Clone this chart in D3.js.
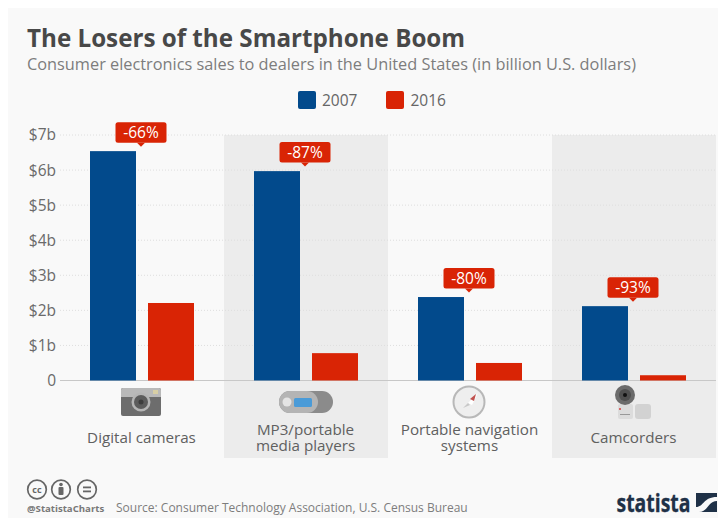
<!DOCTYPE html>
<html><head><meta charset="utf-8">
<script src="https://cdn.jsdelivr.net/npm/d3@7"></script>
<style>html,body{margin:0;padding:0;background:#fff}svg{display:block}text{font-family:"Open Sans",sans-serif}</style>
</head><body><svg id="c" width="718" height="518"></svg>
<script>
const categories=["Digital cameras","MP3/portable media players","Portable navigation systems","Camcorders"];
const labelLines=[["Digital cameras"],["MP3/portable","media players"],["Portable navigation","systems"],["Camcorders"]];
const series2007=[6.54,5.97,2.38,2.12];
const series2016=[2.21,0.78,0.5,0.15];
const changes=["-66%","-87%","-80%","-93%"];
const yTicks=[0,1,2,3,4,5,6,7];
const blue="#024a8c",red="#d92405";
const svg=d3.select("#c");
svg.append("rect").attr("x",8).attr("y",8).attr("width",710).attr("height",510).attr("fill","#f9f9f9");
const x=d3.scaleBand().domain(categories).range([60,716]);
const y=d3.scaleLinear().domain([0,7]).range([380.5,135]);
const inner=d3.scaleBand().domain(["2007","2016"]).range([30,134]).paddingInner(12/58).paddingOuter(0);
categories.forEach((c,i)=>{ if(i%2==1) svg.append("rect").attr("x",x(c)).attr("y",y(7)).attr("width",x.bandwidth()).attr("height",458-y(7)).attr("fill","#ececec"); });
svg.append("text").attr("x",27).attr("y",47).attr("font-size",24.2).attr("font-weight",700).attr("fill","#484848").text("The Losers of the Smartphone Boom");
svg.append("text").attr("x",27).attr("y",70).attr("font-size",16.32).attr("fill","#7d7d7d").text("Consumer electronics sales to dealers in the United States (in billion U.S. dollars)");
[["2007",blue,298,322],["2016",red,386,410.5]].forEach(([t,col,rx,tx])=>{
 svg.append("rect").attr("x",rx).attr("y",91).attr("width",18).attr("height",18).attr("rx",2).attr("fill",col);
 svg.append("text").attr("x",tx).attr("y",106).attr("font-size",15.5).attr("fill","#666").text(t);
});
const axis=d3.axisLeft(y).tickValues(yTicks).tickSize(0).tickPadding(0).tickFormat(d=>d===0?"0":"$"+d+"b");
const ga=svg.append("g").attr("transform","translate(56,0)").call(axis);
ga.select(".domain").remove();
ga.selectAll("text").attr("font-size",15.5).attr("fill","#6a6a6a").style("font-family",'"Open Sans",sans-serif');
yTicks.forEach(t=>{
 svg.append("line").attr("x1",60).attr("x2",716).attr("y1",y(t)).attr("y2",y(t))
  .attr("stroke",t===0?"#c8c8c8":"#dedede").attr("stroke-width",1).attr("stroke-dasharray",t===0?null:"1 2");
});
categories.forEach((c,i)=>{
 const x0=x(c);
 svg.append("rect").attr("x",x0+inner("2007")).attr("y",y(series2007[i])).attr("width",inner.bandwidth()).attr("height",y(0)-y(series2007[i])).attr("fill",blue);
 svg.append("rect").attr("x",x0+inner("2016")).attr("y",y(series2016[i])).attr("width",inner.bandwidth()).attr("height",y(0)-y(series2016[i])).attr("fill",red);
 const cx=x0+x.bandwidth()/2-1, top=y(series2007[i]);
 const by=top-8.5;
 svg.append("rect").attr("x",cx-25.5).attr("y",by-20.5).attr("width",51).attr("height",20.5).attr("rx",2.5).attr("fill",red);
 svg.append("path").attr("d",`M${cx-4},${by}L${cx},${by+4}L${cx+4},${by}Z`).attr("fill",red);
 svg.append("text").attr("x",cx).attr("y",by-4.8).attr("text-anchor","middle").attr("font-size",15.5).attr("font-weight",500).attr("fill","#fff").text(changes[i]);
 const lines=labelLines[i];
 const t=svg.append("text").attr("text-anchor","middle").attr("font-size",15.2).attr("fill","#606060");
 lines.forEach((l,k)=>t.append("tspan").attr("x",cx+0.5).attr("y",(lines.length==1?443:434.5)+k*16.8).text(l));
});
const ic=svg.append("g");
const cc=categories.map(c=>x(c)+x.bandwidth()/2-1);
let g=ic.append("g").attr("transform",`translate(${cc[0]},0)`);
g.append("rect").attr("x",-20).attr("y",388).attr("width",40).attr("height",28).attr("rx",2).attr("fill","#6d6d6d");
g.append("path").attr("d","M-20,397V390a2,2 0 0 1 2,-2H18a2,2 0 0 1 2,2V397Z").attr("fill","#b9b9b9");
g.append("rect").attr("x",12).attr("y",390).attr("width",5).attr("height",4).attr("fill","#d8cfa5");
g.append("circle").attr("cy",402).attr("r",9.5).attr("fill","#b5b5b5");
g.append("circle").attr("cy",402).attr("r",7).attr("fill","#5c5c5c");
g.append("circle").attr("cy",402).attr("r",2.5).attr("fill","#3d3d3d");
g=ic.append("g").attr("transform",`translate(${cc[1]},0)`);
g.append("rect").attr("x",-26).attr("y",391).attr("width",54).attr("height",22).attr("rx",11).attr("fill","#8b8b8b");
g.append("rect").attr("x",-26).attr("y",391).attr("width",39).attr("height",22).attr("rx",11).attr("fill","#b4b4b4");
g.append("rect").attr("x",-11).attr("y",398).attr("width",18).attr("height",9).attr("rx",1.5).attr("fill","#4a9bd8");
g.append("circle").attr("cx",-18).attr("cy",402).attr("r",4.5).attr("fill","#e4e4e4");
g=ic.append("g").attr("transform",`translate(${cc[2]},0)`);
g.append("circle").attr("cy",402).attr("r",15.5).attr("fill","#eeeeee").attr("stroke","#b8b8b8").attr("stroke-width",2);
g.append("path").attr("d","M-1,403L9,393L3,405Z").attr("fill","#fff");
g.append("path").attr("d","M1,399L7,394L5,401Z").attr("fill","#c0504d");
g.append("path").attr("d","M-1,403L-6,408L1,405Z").attr("fill","#c8c8c8");
g=ic.append("g").attr("transform",`translate(${cc[3]},0)`);
g.append("rect").attr("x",-15).attr("y",404).attr("width",15).attr("height",15).attr("rx",2).attr("fill","#dcdcdc");
g.append("rect").attr("x",2).attr("y",404).attr("width",16).attr("height",15).attr("rx",3).attr("fill","#d2d2d2");
g.append("circle").attr("cx",-8).attr("cy",395).attr("r",10).attr("fill","#6b6b6b");
g.append("circle").attr("cx",-8).attr("cy",395).attr("r",6).attr("fill","#4f4f4f");
g.append("circle").attr("cx",-8).attr("cy",395).attr("r",2).attr("fill","#111");
g.append("circle").attr("cx",-13).attr("cy",409).attr("r",1).attr("fill","#d94040");
g.append("rect").attr("x",-13).attr("y",414).attr("width",10).attr("height",1).attr("fill","#999");
const badge=svg.append("g").attr("fill","none").attr("stroke","#666").attr("stroke-width",1.7);
[37,61,87].forEach(cx=>badge.append("circle").attr("cx",cx).attr("cy",489.5).attr("r",9.3));
svg.append("text").attr("x",37).attr("y",493).attr("text-anchor","middle").attr("font-size",9).attr("font-weight",700).attr("fill","#666").text("cc");
svg.append("circle").attr("cx",61).attr("cy",484.5).attr("r",1.8).attr("fill","#666");
svg.append("rect").attr("x",58.5).attr("y",487).attr("width",5).attr("height",8).attr("rx",1).attr("fill","#666");
svg.append("rect").attr("x",83).attr("y",486.5).attr("width",8).attr("height",1.8).attr("fill","#666");
svg.append("rect").attr("x",83).attr("y",490.5).attr("width",8).attr("height",1.8).attr("fill","#666");
svg.append("text").attr("x",27).attr("y",512).attr("font-size",9.6).attr("font-weight",700).attr("fill","#777").text("@StatistaCharts");
svg.append("text").attr("x",116).attr("y",512).attr("font-size",12).attr("fill","#7d7d7d").text("Source: Consumer Technology Association, U.S. Census Bureau");
svg.append("text").attr("x",616.5).attr("y",511.5).attr("font-size",25).attr("font-weight",700).attr("fill","#1f3147").attr("stroke","#1f3147").attr("stroke-width",0.3).attr("textLength",74).attr("lengthAdjust","spacingAndGlyphs").style("font-family",'"Liberation Sans Narrow","Open Sans",sans-serif').text("statista");
svg.append("rect").attr("x",696).attr("y",493).attr("width",21).attr("height",19).attr("fill","#1f3147");
svg.append("path").attr("d","M696,507C704,507 703,497 717,497V501C708,501 708,512 699,512H696Z").attr("fill","#f9f9f9");
</script></body></html>
